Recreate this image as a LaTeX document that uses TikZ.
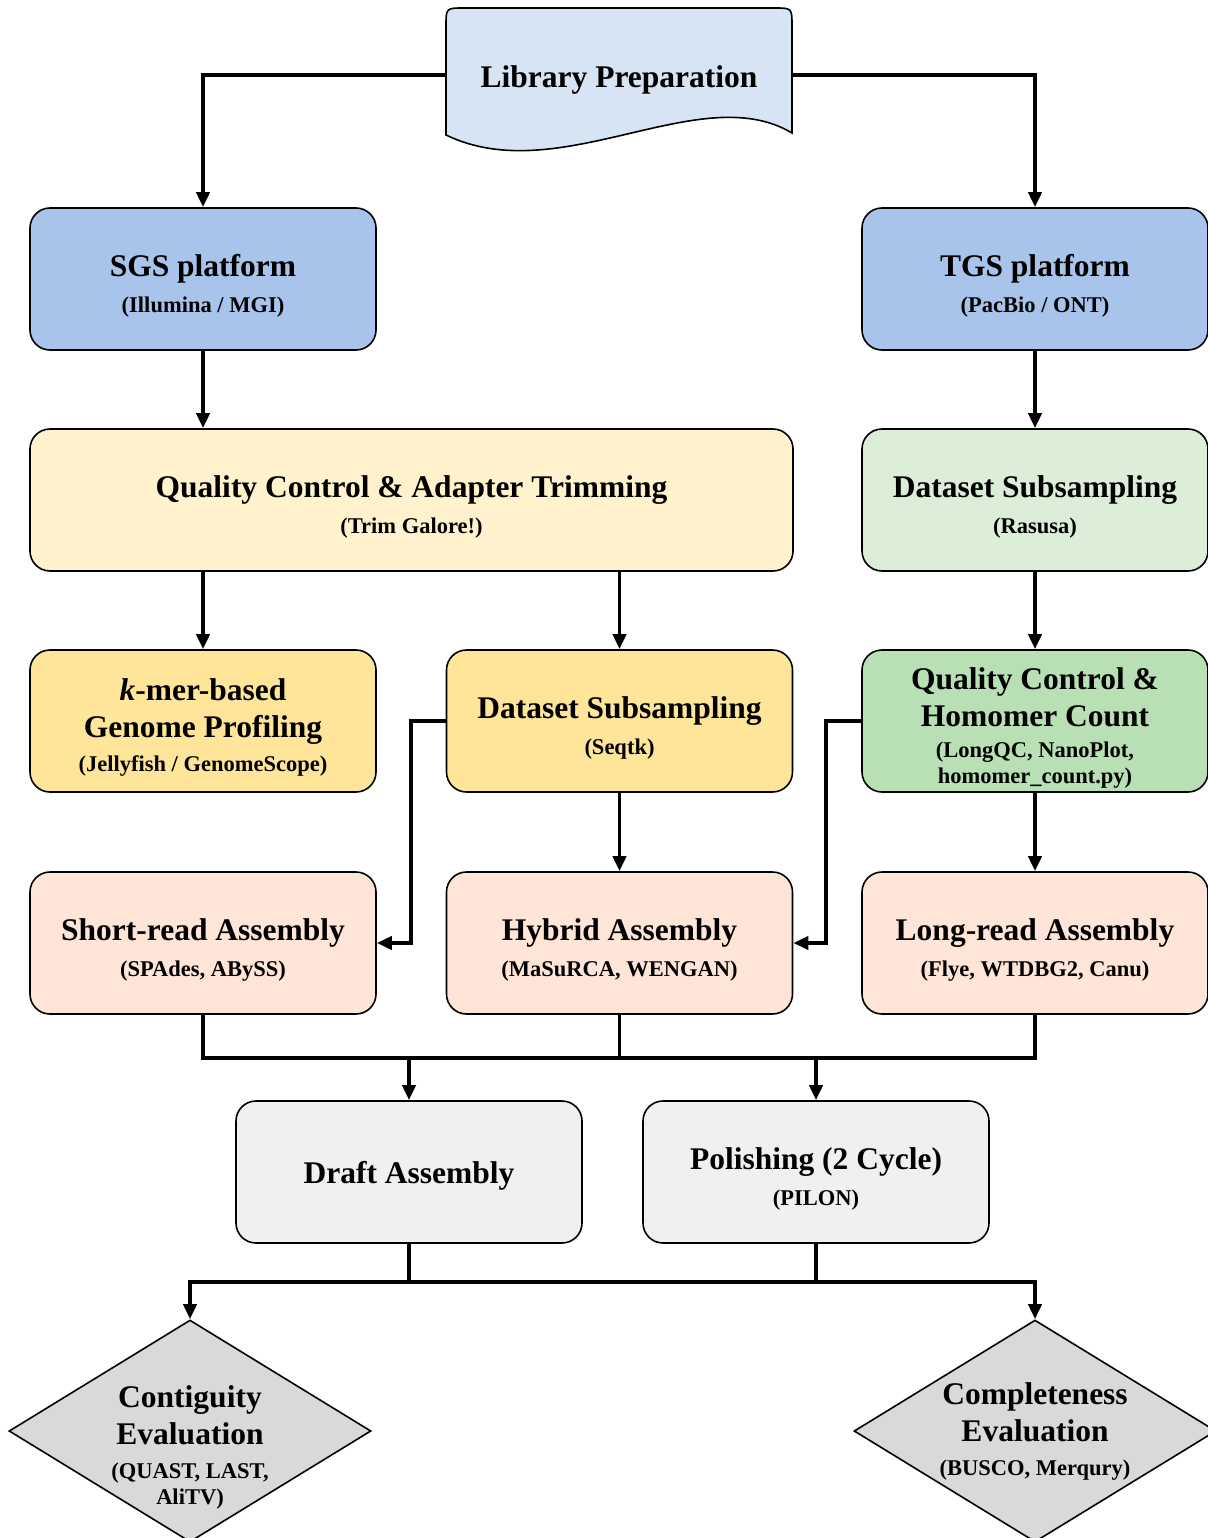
\documentclass[tikz,border=0pt]{standalone}
\usepackage{fontspec}
\setmainfont{Liberation Serif}
\usetikzlibrary{positioning,arrows.meta,shapes.geometric}

\definecolor{libblue}{HTML}{D7E4F4}
\definecolor{platblue}{HTML}{A9C4EB}
\definecolor{qcyellow}{HTML}{FFF2CC}
\definecolor{subgreen}{HTML}{DCEED7}
\definecolor{stepyellow}{HTML}{FFE599}
\definecolor{qcgreen}{HTML}{B9E0B4}
\definecolor{asmpeach}{HTML}{FFE5D7}
\definecolor{postgray}{HTML}{F0F0F0}
\definecolor{evalgray}{HTML}{D9D9D9}

\newcommand{\tooltxt}[1]{{\fontsize{22.5}{26}\selectfont #1}}
\newcommand{\boxlead}{\rule{0pt}{35pt}}

\begin{document}
\begin{tikzpicture}[x=1pt,y=-1pt,
    box/.style={rectangle, rounded corners=20pt, draw=black, line width=1.6pt,
                minimum width=346pt, minimum height=142pt, align=center,
                font=\bfseries\fontsize{31.5}{37}\selectfont},
    evalbox/.style={diamond, draw=black, line width=1.6pt, fill=evalgray,
                    minimum width=362pt, minimum height=222pt, inner sep=0pt},
    evaltext/.style={align=center, font=\bfseries\fontsize{31.5}{37}\selectfont},
    flow/.style={-{Triangle[length=15pt,width=13pt]}, line width=3.8pt},
    link/.style={line width=3.8pt}]

  \useasboundingbox (0,0) rectangle (1207,1538);

  \draw[line width=1.6pt, fill=libblue]
    (446,135) -- (446,26) .. controls (446,8) .. (464,8) -- (774,8)
    .. controls (792,8) .. (792,26) -- (792,133)
    .. controls (700,78) and (560,190) .. (446,135) -- cycle;
  \node[minimum width=346pt, font=\bfseries\fontsize{31.5}{37}\selectfont]
    (lib) at (619,75) {\rule{0pt}{32pt}Library Preparation};

  \node[box, fill=platblue]   (sgs)    at (203,279)   {\boxlead SGS platform\\[-1pt]\tooltxt{(Illumina / MGI)}};
  \node[box, fill=platblue]   (tgs)    at (1035,279)  {\boxlead TGS platform\\[-1pt]\tooltxt{(PacBio / ONT)}};
  \node[box, fill=qcyellow, minimum width=763pt]
                              (qc)     at (411.5,500) {\boxlead Quality Control \& Adapter Trimming\\[-1pt]\tooltxt{(Trim Galore!)}};
  \node[box, fill=subgreen]   (rasusa) at (1035,500)  {\boxlead Dataset Subsampling\\[-1pt]\tooltxt{(Rasusa)}};
  \node[box, fill=stepyellow] (kmer)   at (203,721)   {\boxlead\textit{k}-mer-based\\Genome Profiling\\[-3pt]\tooltxt{(Jellyfish / GenomeScope)}};
  \node[box, fill=stepyellow] (seqtk)  at (619.5,721) {\boxlead Dataset Subsampling\\[-1pt]\tooltxt{(Seqtk)}};
  \node[box, fill=qcgreen]    (hqc)    at (1035,721)  {\boxlead Quality Control \&\\Homomer Count\\[-6pt]\tooltxt{(LongQC, NanoPlot,}\\[-11pt]\tooltxt{homomer\_count.py)}};
  \node[box, fill=asmpeach]   (short)  at (203,943)   {\boxlead Short-read Assembly\\[-1pt]\tooltxt{(SPAdes, ABySS)}};
  \node[box, fill=asmpeach]   (hybrid) at (619.5,943) {\boxlead Hybrid Assembly\\[-1pt]\tooltxt{(MaSuRCA, WENGAN)}};
  \node[box, fill=asmpeach]   (long)   at (1035,943)  {\boxlead Long-read Assembly\\[-1pt]\tooltxt{(Flye, WTDBG2, Canu)}};
  \node[box, fill=postgray]   (draft)  at (409,1172)  {\rule{0pt}{30pt}Draft Assembly};
  \node[box, fill=postgray]   (polish) at (816,1172)  {\boxlead Polishing (2 Cycle)\\[-1pt]\tooltxt{(PILON)}};

  \node[evalbox] (contig)   at (190,1431)  {};
  \node[evalbox] (complete) at (1035,1431) {};
  \node[evaltext] at (190,1447)  {Contiguity\\Evaluation\\[-3pt]\tooltxt{(QUAST, LAST,}\\[-11pt]\tooltxt{AliTV)}};
  \node[evaltext] at (1035,1431) {Completeness\\Evaluation\\[-3pt]\tooltxt{(BUSCO, Merqury)}};

  \draw[flow] (lib.west) -| (sgs.north);
  \draw[flow] (lib.east) -| (tgs.north);
  \draw[flow] (sgs.south) -- (sgs.south |- qc.north);
  \draw[flow] (tgs.south) -- (rasusa.north);
  \draw[flow] (kmer.north |- qc.south) -- (kmer.north);
  \draw[flow] (seqtk.north |- qc.south) -- (seqtk.north);
  \draw[flow] (rasusa.south) -- (hqc.north);
  \draw[flow] (seqtk.west) -- ++(-35,0) |- (short.east);
  \draw[flow] (seqtk.south) -- (hybrid.north);
  \draw[flow] (hqc.west) -- ++(-35,0) |- (hybrid.east);
  \draw[flow] (hqc.south) -- (long.north);

  \path (hybrid.south) ++(0,43) coordinate (join);
  \draw[link] (short.south) -- (short.south |- join) -| (long.south);
  \draw[link] (hybrid.south) -- (join);
  \draw[flow] (join -| draft.north) -- (draft.north);
  \draw[flow] (join -| polish.north) -- (polish.north);

  \path (draft.south) ++(0,38) coordinate (split);
  \draw[link] (draft.south) -- (split);
  \draw[link] (polish.south) -- (polish.south |- split);
  \draw[flow] (split) -| (contig.north);
  \draw[flow] (split) -| (complete.north);
\end{tikzpicture}
\end{document}
